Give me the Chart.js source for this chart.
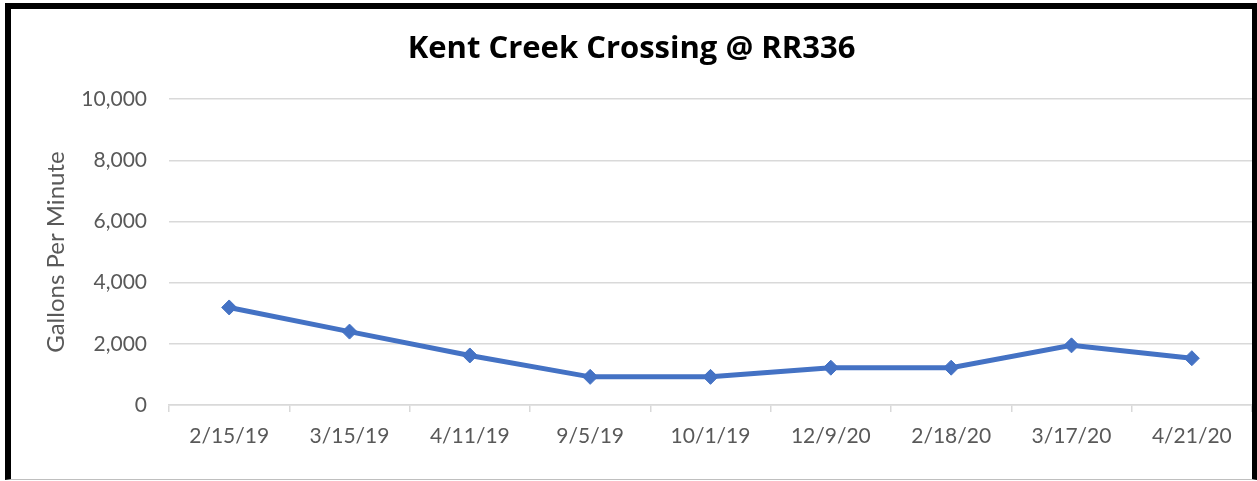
<!DOCTYPE html>
<html>
<head>
<meta charset="utf-8">
<script src="https://cdn.jsdelivr.net/npm/chart.js@4"></script>
<style>
  html, body { margin: 0; padding: 0; background: #fff; }
  #frame {
    position: absolute;
    left: 5px;
    top: 3px;
    width: 1241px;
    height: 470px;
    border-top: 6px solid #000;
    border-left: 6px solid #000;
    border-right: 5px solid #000;
    border-bottom: 1px solid #bfbfbf;
  }
  #flowChart { display: block; }
</style>
</head>
<body>
<div id="frame"><canvas id="flowChart" width="1241" height="470"></canvas></div>
<script>
// sample dates and flow readings (gallons per minute)
const dates = ["2/15/19", "3/15/19", "4/11/19", "9/5/19", "10/1/19", "12/9/20", "2/18/20", "3/17/20", "4/21/20"];
const flowGpm = [3190, 2400, 1620, 920, 920, 1220, 1220, 1950, 1530];
const yTicks = [0, 2000, 4000, 6000, 8000, 10000];

const labelFont = "Lato, 'Open Sans', sans-serif";
const labelColor = "#595959";

const ctx = document.getElementById("flowChart").getContext("2d");

new Chart(ctx, {
  type: "line",
  data: {
    labels: dates,
    datasets: [
      {
        label: "Flow",
        data: flowGpm,
        borderColor: "#4472C4",
        backgroundColor: "#4472C4",
        borderWidth: 5,
        fill: false,
        tension: 0,
        pointStyle: "rectRot",
        pointRadius: 7.5,
        pointBorderWidth: 1,
        pointBorderColor: "#4472C4",
      },
    ],
  },
  options: {
    responsive: false,
    animation: false,
    // autoPadding reserves room for the point radius on the right, plot runs to the frame here
    layout: { autoPadding: false, padding: 0 },
    plugins: {
      legend: { display: false },
      tooltip: { enabled: false },
      title: {
        display: true,
        text: "Kent Creek Crossing @ RR336",
        color: "#000",
        font: { family: "'Open Sans', sans-serif", size: 31, weight: "bold" },
        padding: { top: 22, bottom: 31 },
      },
    },
    scales: {
      x: {
        offset: true,
        border: { display: true, color: "#d9d9d9", width: 1.5 },
        grid: {
          offset: true,
          drawOnChartArea: false,
          drawTicks: true,
          tickLength: 7,
          color: "#d9d9d9",
          lineWidth: 1.5,
        },
        ticks: {
          color: labelColor,
          font: { family: labelFont, size: 21 },
          padding: 12,
          maxRotation: 0,
        },
        afterFit: (scale) => {
          scale.height = 74;
          scale.paddingLeft = 0;
          scale.paddingRight = 0;
        },
      },
      y: {
        min: 0,
        max: 10000,
        afterBuildTicks: (scale) => { scale.ticks = yTicks.map((v) => ({ value: v })); },
        border: { display: false },
        grid: { color: "#d9d9d9", lineWidth: 1.5, drawTicks: false },
        ticks: {
          color: labelColor,
          font: { family: labelFont, size: 21 },
          padding: 22,
          callback: (v) => v.toLocaleString("en-US"),
        },
        title: {
          display: true,
          text: "Gallons Per Minute",
          color: labelColor,
          font: { family: labelFont, size: 24 },
          padding: { top: 31, bottom: 0 },
        },
        afterFit: (scale) => { scale.width = 158; },
      },
    },
  },
});
</script>
</body>
</html>
